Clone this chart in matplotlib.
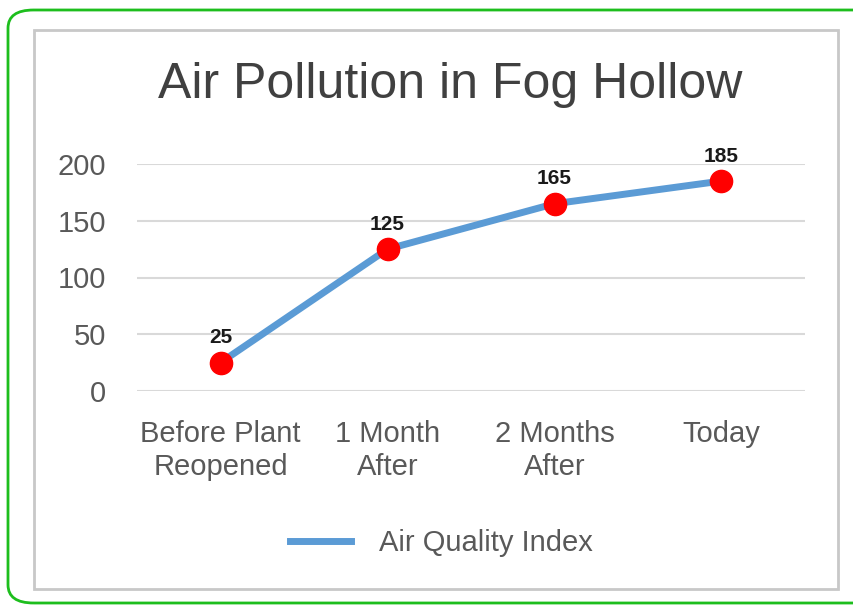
import matplotlib
matplotlib.use("Agg")
import matplotlib.pyplot as plt
from matplotlib.patches import FancyBboxPatch, Rectangle
from matplotlib.lines import Line2D

categories = ["Before Plant\nReopened", "1 Month\nAfter", "2 Months\nAfter", "Today"]
values = [25, 125, 165, 185]
yticks = [0, 50, 100, 150, 200]
title = "Air Pollution in Fog Hollow"
series_name = "Air Quality Index"

plt.rcParams['font.family'] = ['Liberation Sans', 'DejaVu Sans']

W, H = 854, 606
fig = plt.figure(figsize=(W / 100, H / 100), dpi=100)
fig.patch.set_facecolor("white")

# green rounded outer border
green = FancyBboxPatch((8 / W, 1 - 603 / H), (900 - 8) / W, (603 - 10) / H,
                       boxstyle="round,pad=0,rounding_size=0.03",
                       transform=fig.transFigure, fill=False,
                       edgecolor="#1DBE1D", linewidth=2, clip_on=False)
fig.patches.append(green)
# grey inner box
grey = Rectangle((34 / W, 1 - 589 / H), (838 - 34) / W, (589 - 30) / H,
                 transform=fig.transFigure, fill=False,
                 edgecolor="#C8C8C8", linewidth=2)
fig.patches.append(grey)

ax = fig.add_axes([137 / W, 1 - 391 / H, (805 - 137) / W, (391 - 164) / H])
x = list(range(len(categories)))
ax.plot(x, values, color="#5B9BD5", linewidth=5, solid_capstyle="butt", zorder=2)
ax.plot(x, values, linestyle="none", marker="o", markersize=16,
        markerfacecolor="#FF0000", markeredgecolor="#FF0000", zorder=3)
for xi, v in zip(x, values):
    ax.annotate(str(v), (xi, v), xytext=(0, 11), textcoords="offset points",
                ha="center", va="bottom", fontsize=15, fontweight="bold", color="#1a1a1a")

ax.set_xlim(-0.5, len(categories) - 0.5)
ax.set_ylim(0, 200)
ax.set_yticks(yticks)
ax.set_xticks(x)
ax.set_xticklabels(categories, fontsize=21, color="#595959", linespacing=1.22)
ax.tick_params(axis="y", labelsize=21, labelcolor="#595959", length=0, pad=22)
ax.tick_params(axis="x", length=0, pad=21)
ax.grid(axis="y", color="#D9D9D9", linewidth=1.5)
ax.set_axisbelow(True)
for s in ax.spines.values():
    s.set_visible(False)

fig.text(450 / W, 1 - 85 / H, title, ha="center", va="center",
         fontsize=36, color="#404040")

handle = Line2D([], [], color="#5B9BD5", linewidth=5)
fig.legend([handle], [series_name], loc="center", bbox_to_anchor=(441 / W, 1 - 543 / H),
           frameon=False, fontsize=21, labelcolor="#595959", handlelength=2.1,
           handletextpad=0.95)

fig.savefig("out.png", dpi=100)
